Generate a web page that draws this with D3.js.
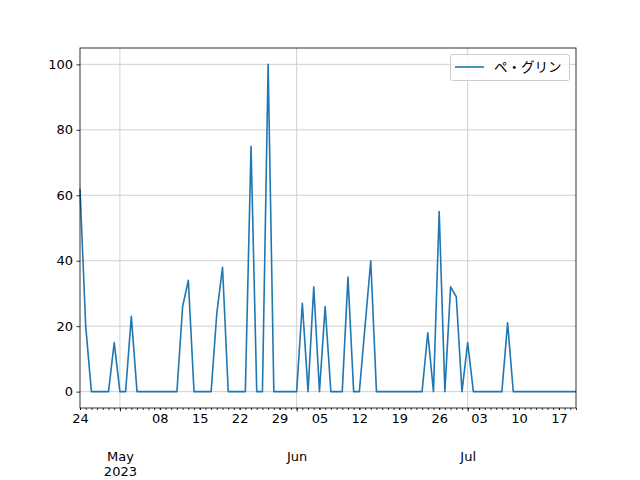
<!DOCTYPE html>
<html><head><meta charset="utf-8">
<script src="https://cdn.jsdelivr.net/npm/d3@7"></script>
<style>body{margin:0;background:#fff}svg{display:block}</style>
</head><body>
<svg id="c" width="640" height="480"></svg>
<script>
const startDate = "2023-04-24";
const values = [62,20,0,0,0,0,15,0,0,23,0,0,0,0,0,0,0,0,26,34,0,0,0,0,24,38,0,0,0,0,75,0,0,100,0,0,0,0,0,27,0,32,0,26,0,0,0,35,0,0,20,40,0,0,0,0,0,0,0,0,0,18,0,55,0,32,29,0,15,0,0,0,0,0,0,21,0,0,0,0,0,0,0,0,0,0,0,0];
const seriesName = "ペ・グリン";
const yTicks = [0,20,40,60,80,100];
const xDomain = ["2023-04-24","2023-07-20"];

const parse = d3.utcParse("%Y-%m-%d");
const t0 = parse(startDate);
const data = values.map((v,i)=>({date:d3.utcDay.offset(t0,i), v}));

const svg = d3.select("#c");
const L=80,R=576,T=48,B=408;
const font = "'DejaVu Sans', sans-serif";
const x = d3.scaleUtc().domain(xDomain.map(parse)).range([L,R]);
const y = d3.scaleLinear().domain([-5,105]).range([B,T]);

// grid
const g = svg.append("g");
const months = d3.utcMonth.range(x.domain()[0], d3.utcDay.offset(x.domain()[1],1));
g.selectAll(".hg").data(yTicks).join("line")
 .attr("x1",L).attr("x2",R).attr("y1",d=>y(d)).attr("y2",d=>y(d))
 .attr("stroke","#cbcbcb").attr("stroke-width",0.9);
g.selectAll(".vg").data(months).join("line")
 .attr("x1",d=>x(d)).attr("x2",d=>x(d)).attr("y1",T).attr("y2",B)
 .attr("stroke","#cbcbcb").attr("stroke-width",0.9);

// line
svg.append("path").datum(data)
 .attr("fill","none").attr("stroke","#1f77b4").attr("stroke-width",1.6)
 .attr("stroke-linejoin","round")
 .attr("d", d3.line().x(d=>x(d.date)).y(d=>y(d.v)));

// y axis
const ya = svg.append("g").attr("transform",`translate(${L},0)`)
 .call(d3.axisLeft(y).tickValues(yTicks).tickSize(3.5).tickPadding(3.5));
// x minor daily ticks
const days = d3.utcDay.range(x.domain()[0], d3.utcDay.offset(x.domain()[1],1));
const xa = svg.append("g").attr("transform",`translate(0,${B})`)
 .call(d3.axisBottom(x).tickValues(days).tickSize(2).tickFormat(""));
// weekly labels (mondays, not month starts)
const mondays = d3.utcMonday.range(x.domain()[0], d3.utcDay.offset(x.domain()[1],1)).filter(d=>d.getUTCDate()!==1);
const xw = svg.append("g").attr("transform",`translate(0,${B})`)
 .call(d3.axisBottom(x).tickValues(mondays).tickSize(2).tickPadding(3.5).tickFormat(d3.utcFormat("%d")));
// major month ticks
const xm = svg.append("g").attr("transform",`translate(0,${B})`)
 .call(d3.axisBottom(x).tickValues(months).tickSize(3.5).tickPadding(0).tickFormat(""));
xm.selectAll(".tick").append("text").attr("fill","#000").attr("y",53).attr("text-anchor","middle")
 .text(d=>d3.utcFormat("%b")(d));
xm.selectAll(".tick").filter((d,i)=>i===0).append("text").attr("fill","#000").attr("y",68).attr("text-anchor","middle")
 .text(d=>d3.utcFormat("%Y")(d));

[ya,xa,xw,xm].forEach(a=>{
  a.selectAll("text").attr("font-family",font).attr("font-size",13);
  a.selectAll(".domain").remove();
  a.selectAll("line").attr("stroke","#000").attr("stroke-width",0.8);
});

// spines
svg.append("rect").attr("x",L).attr("y",T).attr("width",R-L).attr("height",B-T)
 .attr("fill","none").attr("stroke","#000").attr("stroke-width",0.8);

// legend
const lg = svg.append("g");
lg.append("rect").attr("x",450.5).attr("y",54.5).attr("width",119).attr("height",26).attr("rx",2)
 .attr("fill","#fff").attr("fill-opacity",0.8).attr("stroke","#cccccc").attr("stroke-width",1);
lg.append("line").attr("x1",455).attr("x2",484).attr("y1",67).attr("y2",67)
 .attr("stroke","#1f77b4").attr("stroke-width",1.6);
lg.append("text").attr("x",494).attr("y",67).attr("dy","0.35em")
 .attr("font-family","'Noto Sans CJK JP', sans-serif").attr("font-size",13.5).text(seriesName);
</script>
</body></html>
